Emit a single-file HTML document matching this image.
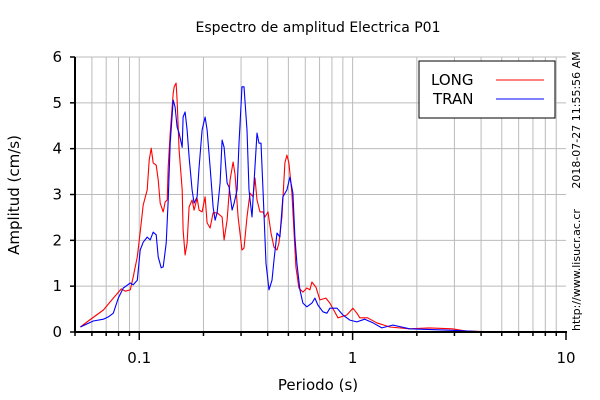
<!DOCTYPE html>
<html><head><meta charset="utf-8"><style>
body{margin:0;background:#fff}
svg{display:block;font-family:"DejaVu Sans","Liberation Sans",sans-serif}
</style></head><body>
<svg id="chart" width="600" height="400" viewBox="0 0 600 400">
<rect width="600" height="400" fill="#fff"/>
<text x="318" y="32" text-anchor="middle" font-size="14">Espectro de amplitud Electrica P01</text>
<text x="0" y="0" transform="translate(19,195) rotate(-90)" text-anchor="middle" font-size="15">Amplitud (cm/s)</text>
<text x="318" y="390" text-anchor="middle" font-size="15">Periodo (s)</text>
<text transform="translate(580,120) rotate(-90)" text-anchor="middle" font-size="11">2018-07-27 11:55:56 AM</text>
<text transform="translate(580,270) rotate(-90)" text-anchor="middle" font-size="11">http://www.lisucr.ac.cr</text>
<g id="grid"></g>
<g id="series"></g>
<g id="axes"></g>
<g>
<rect x="419" y="61" width="136" height="57" fill="#fff" stroke="#000" stroke-width="1"/>
<text x="431" y="85" font-size="15">LONG</text>
<line x1="496" y1="80" x2="544" y2="80" stroke="#f00"/>
<text x="433" y="104" font-size="15">TRAN</text>
<line x1="496" y1="99" x2="544" y2="99" stroke="#00f"/>
</g>
</svg>
<script>
const xTickValues=[0.1,1,10];
const xTickLabels=["0.1","1","10"];
const yTickValues=[0,1,2,3,4,5,6];
const longPeriods=[0.053,0.0577,0.0679,0.0756,0.0824,0.086,0.0908,0.0937,0.0979,0.1011,0.1044,0.109,0.1114,0.1138,0.1163,0.1201,0.1227,0.1254,0.1295,0.1323,0.1352,0.1367,0.1396,0.1442,0.1458,0.1489,0.1505,0.1538,0.1589,0.1606,0.1641,0.1677,0.1713,0.1770,0.1808,0.1868,0.1908,0.1971,0.2036,0.2081,0.2148,0.2219,0.2318,0.2446,0.25,0.2582,0.2665,0.2753,0.2813,0.2905,0.3031,0.3098,0.3198,0.3304,0.3414,0.3488,0.3564,0.368,0.3801,0.3884,0.4012,0.4143,0.428,0.442,0.4516,0.4664,0.4817,0.4922,0.503,0.5195,0.5308,0.5424,0.56,0.5848,0.6105,0.6306,0.6443,0.6727,0.7025,0.7496,0.7824,0.8539,0.9395,1.003,1.047,1.081,1.176,1.297,1.494,1.85,2.29,2.93,3.40,4.88,9.9];
const longValues=[0.11,0.24,0.48,0.74,0.94,0.89,0.92,1.20,1.64,2.18,2.77,3.10,3.75,4.01,3.69,3.64,3.32,2.81,2.62,2.84,2.88,3.60,4.34,5.21,5.35,5.43,5.06,3.97,3.10,2.23,1.68,1.94,2.73,2.88,2.66,2.92,2.66,2.62,2.95,2.38,2.27,2.60,2.60,2.51,2.01,2.44,3.32,3.71,3.43,2.51,1.79,1.83,2.51,3.03,2.95,3.36,2.88,2.62,2.62,2.51,2.62,2.16,1.85,1.79,1.94,2.51,3.69,3.86,3.69,3.03,2.23,1.42,0.96,0.87,0.96,0.92,1.09,0.98,0.70,0.74,0.63,0.31,0.37,0.52,0.41,0.31,0.31,0.20,0.11,0.07,0.09,0.07,0.02,0,0];
const tranPeriods=[0.053,0.0609,0.0679,0.0716,0.0756,0.0798,0.0842,0.0908,0.0937,0.0979,0.1011,0.1044,0.109,0.1126,0.1163,0.1201,0.1227,0.1267,0.1295,0.1338,0.1367,0.1396,0.1442,0.1473,0.1505,0.1538,0.1589,0.1606,0.1641,0.1677,0.1713,0.1770,0.1808,0.1868,0.1908,0.1971,0.2036,0.2081,0.2148,0.2219,0.2268,0.2318,0.2393,0.2446,0.25,0.2582,0.2636,0.2723,0.2783,0.2874,0.2935,0.3031,0.3098,0.3198,0.3269,0.3377,0.345,0.3564,0.3641,0.372,0.3801,0.3926,0.4055,0.4188,0.428,0.442,0.4565,0.4715,0.4922,0.5084,0.5251,0.5366,0.5482,0.5661,0.5848,0.6105,0.6443,0.6654,0.6874,0.7256,0.7577,0.7824,0.8447,0.9,0.9705,1.047,1.139,1.245,1.37,1.543,1.696,1.85,2.84,4.39,9.9];
const tranValues=[0.11,0.24,0.28,0.33,0.41,0.74,0.96,1.07,1.03,1.13,1.79,1.96,2.07,2.01,2.18,2.12,1.64,1.40,1.42,1.94,2.88,4.12,5.06,4.91,4.47,4.34,4.03,4.69,4.80,4.41,3.82,3.10,2.81,2.95,3.60,4.41,4.69,4.41,3.60,2.73,2.44,2.60,3.25,4.19,4.03,3.25,3.16,2.66,2.81,3.10,4.12,5.35,5.35,4.41,3.10,2.51,3.25,4.34,4.12,4.12,3.10,1.50,0.92,1.13,1.57,2.16,2.07,2.95,3.10,3.38,3.03,2.07,1.50,0.92,0.63,0.55,0.63,0.74,0.59,0.44,0.41,0.52,0.52,0.37,0.26,0.22,0.28,0.20,0.09,0.15,0.11,0.07,0.04,0,0];

const L=75,R=566,T=57,B=332,xMin=0.05,xMax=10,yMax=6;
function xs(v){return L+(Math.log10(v)-Math.log10(xMin))/(Math.log10(xMax)-Math.log10(xMin))*(R-L);}
function ys(v){return B-v/yMax*(B-T);}
const NS="http://www.w3.org/2000/svg";
function mk(tag,attrs,parent){const e=document.createElementNS(NS,tag);for(const k in attrs)e.setAttribute(k,attrs[k]);parent.appendChild(e);return e;}
const grid=document.getElementById('grid'),axes=document.getElementById('axes'),series=document.getElementById('series');
// vertical grid + x ticks
for(let d=-2;d<=1;d++){for(let m=1;m<=9;m++){const v=m*Math.pow(10,d);if(v<xMin-1e-9||v>xMax+1e-9)continue;const x=xs(v);
 if(x>L+1&&x<R-1){const g=mk('line',{x1:x,y1:T,x2:x,y2:B,stroke:'#bbb','stroke-width':1},grid);
 
 }
 const major=(m===1);
 const t=mk('line',{x1:x,y1:B,x2:x,y2:B+(major?8:4),stroke:'#000','stroke-width':1.5},axes);
 
 }}
yTickValues.forEach(v=>{const y=ys(v);
 if(v>0){const g=mk('line',{x1:L,y1:y,x2:R,y2:y,stroke:'#bbb','stroke-width':1},grid);
 
 }
 const t=mk('line',{x1:L-5,y1:y,x2:L,y2:y,stroke:'#000','stroke-width':1.5},axes);
 
 
 const lb=mk('text',{x:L-13,y:y+5,'text-anchor':'end','font-size':15},axes);lb.textContent=v;
 
 });
xTickValues.forEach((v,i)=>{const lb=mk('text',{x:xs(v),y:B+31,'text-anchor':'middle','font-size':15},axes);lb.textContent=xTickLabels[i];
 
 });
const ax=mk('path',{d:`M${L},${T} V${B} H${R+1}`,fill:'none',stroke:'#000','stroke-width':2},axes);


function drawLine(p,v,color,name){const d=p.map((pp,i)=>(i?'L':'M')+xs(pp).toFixed(1)+','+ys(v[i]).toFixed(1)).join(' ');
 const e=mk('path',{d:d,fill:'none',stroke:color,'stroke-width':1.1,'stroke-linejoin':'round'},series);
 
 }
drawLine(longPeriods,longValues,'#f00','long-series-line');
drawLine(tranPeriods,tranValues,'#00f','tran-series-line');
</script>
</body></html>
